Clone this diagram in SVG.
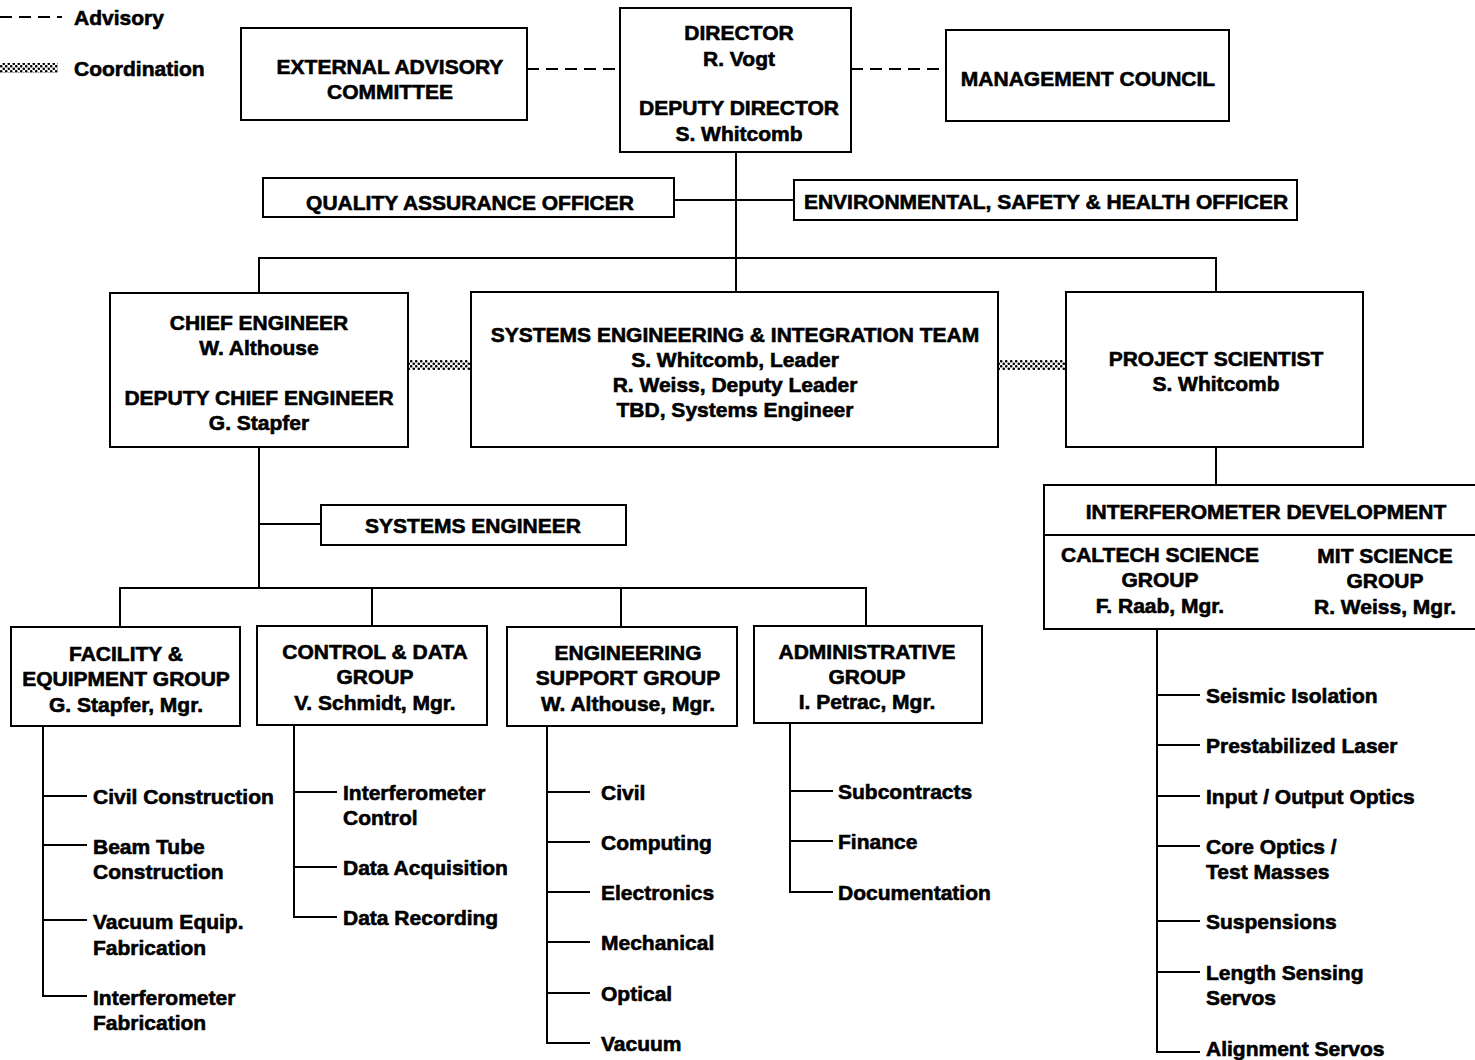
<svg xmlns="http://www.w3.org/2000/svg" width="1475" height="1060" viewBox="0 0 1475 1060">
<defs>
<pattern id="dots" width="5" height="5" patternUnits="userSpaceOnUse">
<circle cx="1.25" cy="1.25" r="1.3" fill="#000"/>
<circle cx="3.75" cy="3.75" r="1.3" fill="#000"/>
</pattern>
<style>
text{font-family:"Liberation Sans",Arial,Helvetica,sans-serif;font-weight:bold;font-size:21px;fill:#000;stroke:#000;stroke-width:0.6;dominant-baseline:central}
.c{text-anchor:middle}
.box{fill:#fff;stroke:#000;stroke-width:2}
.ln{fill:none;stroke:#000;stroke-width:2}
.dash{fill:none;stroke:#000;stroke-width:2;stroke-dasharray:12,7}
</style>
</defs>
<rect width="1475" height="1060" fill="#fff"/>

<g id="legend">
<line class="dash" x1="0" y1="17" x2="62" y2="17"/>
<text x="74" y="17">Advisory</text>
<rect x="0" y="63" width="58" height="10" fill="url(#dots)"/>
<text x="74" y="68">Coordination</text>
</g>

<g id="connectors">
<line class="dash" x1="527" y1="69" x2="620" y2="69"/>
<line class="dash" x1="851" y1="69" x2="946" y2="69"/>
<line class="ln" x1="736" y1="152" x2="736" y2="258"/>
<line class="ln" x1="674" y1="200" x2="794" y2="200"/>
<polyline class="ln" points="259,293 259,258 1216,258 1216,292"/>
<line class="ln" x1="736" y1="258" x2="736" y2="292"/>
<rect x="408" y="360" width="63" height="10" fill="url(#dots)"/>
<rect x="998" y="360" width="68" height="10" fill="url(#dots)"/>
<line class="ln" x1="259" y1="447" x2="259" y2="588"/>
<line class="ln" x1="259" y1="524" x2="321" y2="524"/>
<polyline class="ln" points="120,627 120,588 866,588 866,626"/>
<line class="ln" x1="372" y1="588" x2="372" y2="626"/>
<line class="ln" x1="621" y1="588" x2="621" y2="627"/>
<line class="ln" x1="1216" y1="447" x2="1216" y2="485"/>
<!-- facility list -->
<polyline class="ln" points="43,726 43,996 87,996"/>
<line class="ln" x1="43" y1="796" x2="87" y2="796"/>
<line class="ln" x1="43" y1="845" x2="87" y2="845"/>
<line class="ln" x1="43" y1="920" x2="87" y2="920"/>
<!-- control list -->
<polyline class="ln" points="294,725 294,917 337,917"/>
<line class="ln" x1="294" y1="792" x2="337" y2="792"/>
<line class="ln" x1="294" y1="867" x2="337" y2="867"/>
<!-- eng support list -->
<polyline class="ln" points="547,726 547,1043 590,1043"/>
<line class="ln" x1="547" y1="792" x2="590" y2="792"/>
<line class="ln" x1="547" y1="842" x2="590" y2="842"/>
<line class="ln" x1="547" y1="892" x2="590" y2="892"/>
<line class="ln" x1="547" y1="942" x2="590" y2="942"/>
<line class="ln" x1="547" y1="993" x2="590" y2="993"/>
<!-- admin list -->
<polyline class="ln" points="790,723 790,892 833,892"/>
<line class="ln" x1="790" y1="791" x2="833" y2="791"/>
<line class="ln" x1="790" y1="841" x2="833" y2="841"/>
<!-- interferometer list -->
<polyline class="ln" points="1157,629 1157,1052 1200,1052"/>
<line class="ln" x1="1157" y1="695" x2="1200" y2="695"/>
<line class="ln" x1="1157" y1="745" x2="1200" y2="745"/>
<line class="ln" x1="1157" y1="796" x2="1200" y2="796"/>
<line class="ln" x1="1157" y1="846" x2="1200" y2="846"/>
<line class="ln" x1="1157" y1="921" x2="1200" y2="921"/>
<line class="ln" x1="1157" y1="972" x2="1200" y2="972"/>
</g>

<g id="external-advisory">
<rect class="box" x="241" y="28" width="286" height="92"/>
<text class="c" x="390" y="66">EXTERNAL ADVISORY</text>
<text class="c" x="390" y="91">COMMITTEE</text>
</g>

<g id="director">
<rect class="box" x="620" y="8" width="231" height="144"/>
<text class="c" x="739" y="32">DIRECTOR</text>
<text class="c" x="739" y="58">R. Vogt</text>
<text class="c" x="739" y="107">DEPUTY DIRECTOR</text>
<text class="c" x="739" y="133">S. Whitcomb</text>
</g>

<g id="management-council">
<rect class="box" x="946" y="30" width="283" height="91"/>
<text class="c" x="1088" y="78">MANAGEMENT COUNCIL</text>
</g>

<g id="qa-officer">
<rect class="box" x="263" y="178" width="411" height="39"/>
<text class="c" x="470" y="202">QUALITY ASSURANCE OFFICER</text>
</g>

<g id="esh-officer">
<rect class="box" x="794" y="180" width="503" height="40"/>
<text class="c" x="1046" y="201">ENVIRONMENTAL, SAFETY &amp; HEALTH OFFICER</text>
</g>

<g id="chief-engineer">
<rect class="box" x="110" y="293" width="298" height="154"/>
<text class="c" x="259" y="322">CHIEF ENGINEER</text>
<text class="c" x="259" y="347">W. Althouse</text>
<text class="c" x="259" y="397">DEPUTY CHIEF ENGINEER</text>
<text class="c" x="259" y="422">G. Stapfer</text>
</g>

<g id="sei-team">
<rect class="box" x="471" y="292" width="527" height="155"/>
<text class="c" x="735" y="334">SYSTEMS ENGINEERING &amp; INTEGRATION TEAM</text>
<text class="c" x="735" y="359">S. Whitcomb, Leader</text>
<text class="c" x="735" y="384">R. Weiss, Deputy Leader</text>
<text class="c" x="735" y="409">TBD, Systems Engineer</text>
</g>

<g id="project-scientist">
<rect class="box" x="1066" y="292" width="297" height="155"/>
<text class="c" x="1216" y="358">PROJECT SCIENTIST</text>
<text class="c" x="1216" y="383">S. Whitcomb</text>
</g>

<g id="systems-engineer">
<rect class="box" x="321" y="505" width="305" height="40"/>
<text class="c" x="473" y="525">SYSTEMS ENGINEER</text>
</g>

<g id="facility-group">
<rect class="box" x="11" y="627" width="229" height="99"/>
<text class="c" x="126" y="653">FACILITY &amp;</text>
<text class="c" x="126" y="678">EQUIPMENT GROUP</text>
<text class="c" x="126" y="704">G. Stapfer, Mgr.</text>
<text x="93" y="796">Civil Construction</text>
<text x="93" y="846">Beam Tube</text>
<text x="93" y="871">Construction</text>
<text x="93" y="921">Vacuum Equip.</text>
<text x="93" y="947">Fabrication</text>
<text x="93" y="997">Interferometer</text>
<text x="93" y="1022">Fabrication</text>
</g>

<g id="control-data-group">
<rect class="box" x="257" y="626" width="230" height="99"/>
<text class="c" x="375" y="651">CONTROL &amp; DATA</text>
<text class="c" x="375" y="676">GROUP</text>
<text class="c" x="375" y="702">V. Schmidt, Mgr.</text>
<text x="343" y="792">Interferometer</text>
<text x="343" y="817">Control</text>
<text x="343" y="867">Data Acquisition</text>
<text x="343" y="917">Data Recording</text>
</g>

<g id="engineering-support-group">
<rect class="box" x="507" y="627" width="230" height="99"/>
<text class="c" x="628" y="652">ENGINEERING</text>
<text class="c" x="628" y="677">SUPPORT GROUP</text>
<text class="c" x="628" y="703">W. Althouse, Mgr.</text>
<text x="601" y="792">Civil</text>
<text x="601" y="842">Computing</text>
<text x="601" y="892">Electronics</text>
<text x="601" y="942">Mechanical</text>
<text x="601" y="993">Optical</text>
<text x="601" y="1043">Vacuum</text>
</g>

<g id="administrative-group">
<rect class="box" x="754" y="626" width="228" height="97"/>
<text class="c" x="867" y="651">ADMINISTRATIVE</text>
<text class="c" x="867" y="676">GROUP</text>
<text class="c" x="867" y="701">I. Petrac, Mgr.</text>
<text x="838" y="791">Subcontracts</text>
<text x="838" y="841">Finance</text>
<text x="838" y="892">Documentation</text>
</g>

<g id="interferometer-development">
<rect class="box" x="1044" y="485" width="440" height="144"/>
<line class="ln" x1="1044" y1="535" x2="1484" y2="535"/>
<text class="c" x="1266" y="511">INTERFEROMETER DEVELOPMENT</text>
<text class="c" x="1160" y="554">CALTECH SCIENCE</text>
<text class="c" x="1160" y="579">GROUP</text>
<text class="c" x="1160" y="605">F. Raab, Mgr.</text>
<text class="c" x="1385" y="555">MIT SCIENCE</text>
<text class="c" x="1385" y="580">GROUP</text>
<text class="c" x="1385" y="606">R. Weiss, Mgr.</text>
<text x="1206" y="695">Seismic Isolation</text>
<text x="1206" y="745">Prestabilized Laser</text>
<text x="1206" y="796">Input / Output Optics</text>
<text x="1206" y="846">Core Optics /</text>
<text x="1206" y="871">Test Masses</text>
<text x="1206" y="921">Suspensions</text>
<text x="1206" y="972">Length Sensing</text>
<text x="1206" y="997">Servos</text>
<text x="1206" y="1048">Alignment Servos</text>
</g>
</svg>
